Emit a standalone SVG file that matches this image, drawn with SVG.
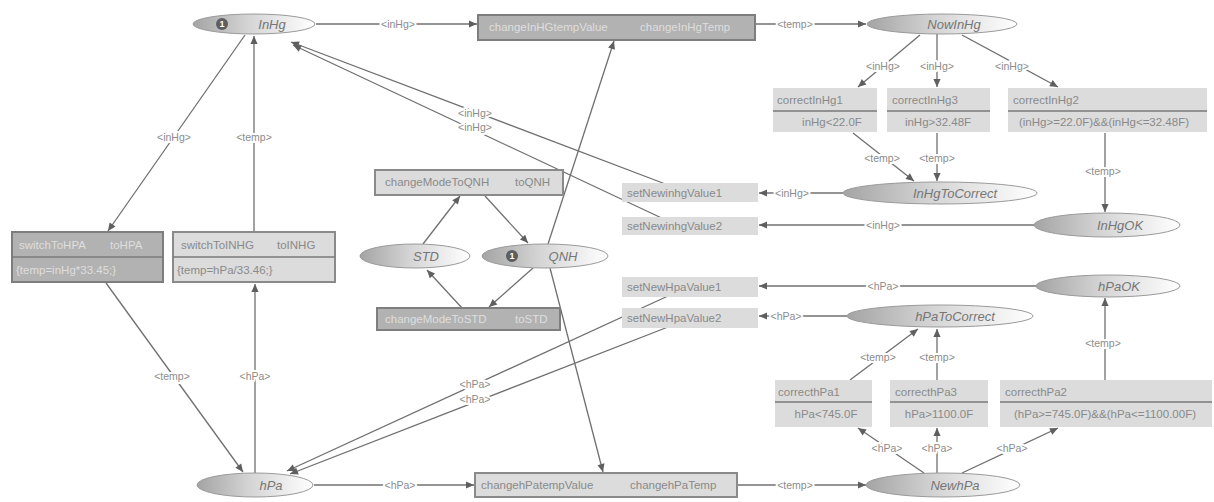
<svg xmlns="http://www.w3.org/2000/svg" width="1214" height="502" viewBox="0 0 1214 502">
<style>
.pl{fill:url(#pg);stroke:#9a9a9a;stroke-width:1}
.pt{font-family:"Liberation Sans",Arial,sans-serif;font-size:13px;font-style:italic;fill:#767676;text-anchor:middle}
.tk{fill:#5e5e5e}
.tkt{font-family:"Liberation Sans",Arial,sans-serif;font-size:9px;font-weight:bold;fill:#fff;text-anchor:middle}
.tl{fill:#dcdcdc;stroke:#8a8a8a;stroke-width:2}
.td{fill:#b2b2b2;stroke:#7e7e7e;stroke-width:2}
.ts{fill:#dcdcdc}
.tt{font-family:"Liberation Sans",Arial,sans-serif;font-size:11.5px;fill:#8a8a8a}
.ttd{font-family:"Liberation Sans",Arial,sans-serif;font-size:11.5px;fill:#dedede}
.ttm{font-family:"Liberation Sans",Arial,sans-serif;font-size:11.5px;fill:#8a8a8a;text-anchor:middle}
.dv{stroke:#7a7a7a;stroke-width:1.5}
.e{stroke:#707070;stroke-width:1.3;fill:none;marker-end:url(#ar)}
.lb{font-family:"Liberation Sans",Arial,sans-serif;font-size:10.5px;fill:#8c8c8c;text-anchor:middle;stroke:#fff;stroke-width:4;paint-order:stroke;stroke-linejoin:round}
</style>
<defs>
<linearGradient id="pg" x1="0" y1="0" x2="1" y2="0">
<stop offset="0" stop-color="#a4a4a4"/>
<stop offset="0.45" stop-color="#d4d4d4"/>
<stop offset="1" stop-color="#ffffff"/>
</linearGradient>
<marker id="ar" viewBox="0 0 10 10" refX="10" refY="5" markerWidth="10" markerHeight="8" markerUnits="userSpaceOnUse" orient="auto">
<path d="M0,0.5 L10,5 L0,9.5 z" fill="#5f5f5f"/>
</marker>
</defs>
<rect width="1214" height="502" fill="#ffffff"/>

<g id="connectors">
<line class="e" x1="316" y1="24" x2="477" y2="24"/>
<line class="e" x1="756" y1="24" x2="866" y2="24"/>
<line class="e" x1="920" y1="35" x2="858" y2="87"/>
<line class="e" x1="937" y1="34" x2="937" y2="87"/>
<line class="e" x1="962" y1="35" x2="1058" y2="87"/>
<line class="e" x1="853" y1="133" x2="914" y2="181"/>
<line class="e" x1="937" y1="133" x2="937" y2="181"/>
<line class="e" x1="1105" y1="133" x2="1105" y2="212"/>
<line class="e" x1="843" y1="193" x2="759" y2="193"/>
<line class="e" x1="1034" y1="225" x2="759" y2="225"/>
<line class="e" x1="1036" y1="286" x2="759" y2="286"/>
<line class="e" x1="847" y1="316" x2="759" y2="316"/>
<line class="e" x1="668" y1="185" x2="291" y2="42"/>
<line class="e" x1="668" y1="221" x2="293" y2="45"/>
<line class="e" x1="668" y1="296" x2="287" y2="471"/>
<line class="e" x1="668" y1="327" x2="290" y2="474"/>
<line class="e" x1="245" y1="35" x2="108" y2="231"/>
<line class="e" x1="254" y1="232" x2="254" y2="36"/>
<line class="e" x1="106" y1="283" x2="243" y2="472"/>
<line class="e" x1="255" y1="473" x2="255" y2="284"/>
<line class="e" x1="314" y1="485" x2="474" y2="485"/>
<line class="e" x1="738" y1="485" x2="866" y2="485"/>
<line class="e" x1="924" y1="473" x2="858" y2="428"/>
<line class="e" x1="937" y1="473" x2="937" y2="428"/>
<line class="e" x1="962" y1="473" x2="1058" y2="428"/>
<line class="e" x1="850" y1="380" x2="918" y2="329"/>
<line class="e" x1="937" y1="380" x2="937" y2="329"/>
<line class="e" x1="1105" y1="380" x2="1105" y2="298"/>
<line class="e" x1="423" y1="244" x2="460" y2="196"/>
<line class="e" x1="485" y1="196" x2="528" y2="243"/>
<line class="e" x1="533" y1="268" x2="489" y2="307"/>
<line class="e" x1="462" y1="308" x2="427" y2="270"/>
<line class="e" x1="548" y1="244" x2="614" y2="41"/>
<line class="e" x1="550" y1="268" x2="603" y2="472"/>
<text class="lb" x="398" y="28">&lt;inHg&gt;</text>
<text class="lb" x="795" y="28">&lt;temp&gt;</text>
<text class="lb" x="883" y="70">&lt;inHg&gt;</text>
<text class="lb" x="937" y="70">&lt;inHg&gt;</text>
<text class="lb" x="1012" y="70">&lt;inHg&gt;</text>
<text class="lb" x="882" y="162">&lt;temp&gt;</text>
<text class="lb" x="937" y="162">&lt;temp&gt;</text>
<text class="lb" x="1103" y="175">&lt;temp&gt;</text>
<text class="lb" x="792" y="197">&lt;inHg&gt;</text>
<text class="lb" x="883" y="229">&lt;inHg&gt;</text>
<text class="lb" x="883" y="290">&lt;hPa&gt;</text>
<text class="lb" x="786" y="320">&lt;hPa&gt;</text>
<text class="lb" x="475" y="117">&lt;inHg&gt;</text>
<text class="lb" x="475" y="131">&lt;inHg&gt;</text>
<text class="lb" x="475" y="388">&lt;hPa&gt;</text>
<text class="lb" x="475" y="403">&lt;hPa&gt;</text>
<text class="lb" x="174" y="141">&lt;inHg&gt;</text>
<text class="lb" x="254" y="141">&lt;temp&gt;</text>
<text class="lb" x="172" y="380">&lt;temp&gt;</text>
<text class="lb" x="255" y="380">&lt;hPa&gt;</text>
<text class="lb" x="400" y="489">&lt;hPa&gt;</text>
<text class="lb" x="795" y="489">&lt;temp&gt;</text>
<text class="lb" x="887" y="452">&lt;hPa&gt;</text>
<text class="lb" x="937" y="452">&lt;hPa&gt;</text>
<text class="lb" x="1012" y="452">&lt;hPa&gt;</text>
<text class="lb" x="878" y="361">&lt;temp&gt;</text>
<text class="lb" x="937" y="361">&lt;temp&gt;</text>
<text class="lb" x="1103" y="347">&lt;temp&gt;</text>
</g>

<g id="InHg"><ellipse class="pl" cx="254" cy="24" rx="61" ry="10"/><circle class="tk" cx="222" cy="24" r="6"/><text class="tkt" x="222" y="27">1</text><text class="pt" x="272" y="29">InHg</text></g>
<g id="NowInHg"><ellipse class="pl" cx="942" cy="24" rx="75" ry="10"/><text class="pt" x="954" y="29">NowInHg</text></g>
<g id="InHgToCorrect"><ellipse class="pl" cx="940" cy="193" rx="97" ry="11"/><text class="pt" x="955" y="198">InHgToCorrect</text></g>
<g id="InHgOK"><ellipse class="pl" cx="1107" cy="225" rx="73" ry="12"/><text class="pt" x="1120" y="230">InHgOK</text></g>
<g id="hPaOK"><ellipse class="pl" cx="1108" cy="286" rx="72" ry="11"/><text class="pt" x="1119" y="291">hPaOK</text></g>
<g id="hPaToCorrect"><ellipse class="pl" cx="940" cy="316" rx="93" ry="11"/><text class="pt" x="955" y="321">hPaToCorrect</text></g>
<g id="NewhPa"><ellipse class="pl" cx="943" cy="485" rx="77" ry="12"/><text class="pt" x="955" y="490">NewhPa</text></g>
<g id="hPa"><ellipse class="pl" cx="255" cy="485" rx="58" ry="12"/><text class="pt" x="271" y="490">hPa</text></g>
<g id="STD"><ellipse class="pl" cx="415" cy="256" rx="55" ry="12"/><text class="pt" x="426" y="261">STD</text></g>
<g id="QNH"><ellipse class="pl" cx="545" cy="256" rx="63" ry="12"/><circle class="tk" cx="512" cy="256" r="6"/><text class="tkt" x="512" y="259">1</text><text class="pt" x="563" y="261">QNH</text></g>

<g id="changeInHGtempValue"><rect class="td" x="478" y="15" width="277" height="25"/><text class="ttd" x="489" y="31">changeInHGtempValue</text><text class="ttd" x="640" y="31">changeInHgTemp</text></g>
<g id="changehPatempValue"><rect class="tl" x="475" y="473" width="262" height="24"/><text class="tt" x="481" y="489">changehPatempValue</text><text class="tt" x="630" y="489">changehPaTemp</text></g>
<g id="changeModeToQNH"><rect class="tl" x="375" y="170" width="188" height="25"/><text class="tt" x="385" y="186">changeModeToQNH</text><text class="tt" x="515" y="186">toQNH</text></g>
<g id="changeModeToSTD"><rect class="td" x="377" y="308" width="183" height="22"/><text class="ttd" x="385" y="323">changeModeToSTD</text><text class="ttd" x="515" y="323">toSTD</text></g>
<g id="switchToHPA"><rect class="td" x="12" y="232" width="151" height="50" stroke-width="1.5"/><line class="dv" x1="12" y1="257" x2="163" y2="257"/><text class="ttd" x="19" y="249">switchToHPA</text><text class="ttd" x="110" y="249">toHPA</text><text class="ttd" x="16" y="274">{temp=inHg*33.45;}</text></g>
<g id="switchToINHG"><rect class="tl" x="173" y="232" width="162" height="50" stroke-width="1.5"/><line class="dv" x1="173" y1="257" x2="335" y2="257"/><text class="tt" x="181" y="249">switchToINHG</text><text class="tt" x="277" y="249">toINHG</text><text class="tt" x="177" y="274">{temp=hPa/33.46;}</text></g>
<g id="setNewinhgValue1"><rect class="ts" x="622" y="183" width="136" height="19"/><text class="tt" x="627" y="197">setNewinhgValue1</text></g>
<g id="setNewinhgValue2"><rect class="ts" x="622" y="217" width="136" height="18"/><text class="tt" x="627" y="230">setNewinhgValue2</text></g>
<g id="setNewHpaValue1"><rect class="ts" x="622" y="277" width="136" height="20"/><text class="tt" x="627" y="291">setNewHpaValue1</text></g>
<g id="setNewHpaValue2"><rect class="ts" x="622" y="308" width="136" height="20"/><text class="tt" x="627" y="322">setNewHpaValue2</text></g>
<g id="correctInHg1"><rect class="ts" x="773" y="88" width="104" height="44"/><line class="dv" x1="773" y1="111" x2="877" y2="111"/><text class="tt" x="777" y="104">correctInHg1</text><text class="ttm" x="832" y="126">inHg&lt;22.0F</text></g>
<g id="correctInHg3"><rect class="ts" x="887" y="88" width="103" height="44"/><line class="dv" x1="887" y1="111" x2="990" y2="111"/><text class="tt" x="892" y="104">correctInHg3</text><text class="ttm" x="938" y="126">inHg&gt;32.48F</text></g>
<g id="correctInHg2"><rect class="ts" x="1008" y="88" width="199" height="44"/><line class="dv" x1="1008" y1="111" x2="1207" y2="111"/><text class="tt" x="1013" y="104">correctInHg2</text><text class="ttm" x="1104" y="126">(inHg&gt;=22.0F)&amp;&amp;(inHg&lt;=32.48F)</text></g>
<g id="correcthPa1"><rect class="ts" x="775" y="380" width="97" height="47"/><line class="dv" x1="775" y1="402" x2="872" y2="402"/><text class="tt" x="778" y="396">correcthPa1</text><text class="ttm" x="826" y="418">hPa&lt;745.0F</text></g>
<g id="correcthPa3"><rect class="ts" x="890" y="380" width="98" height="47"/><line class="dv" x1="890" y1="402" x2="988" y2="402"/><text class="tt" x="895" y="396">correcthPa3</text><text class="ttm" x="939" y="418">hPa&gt;1100.0F</text></g>
<g id="correcthPa2"><rect class="ts" x="1000" y="380" width="212" height="47"/><line class="dv" x1="1000" y1="402" x2="1212" y2="402"/><text class="tt" x="1005" y="396">correcthPa2</text><text class="ttm" x="1105" y="418">(hPa&gt;=745.0F)&amp;&amp;(hPa&lt;=1100.00F)</text></g>
</svg>
